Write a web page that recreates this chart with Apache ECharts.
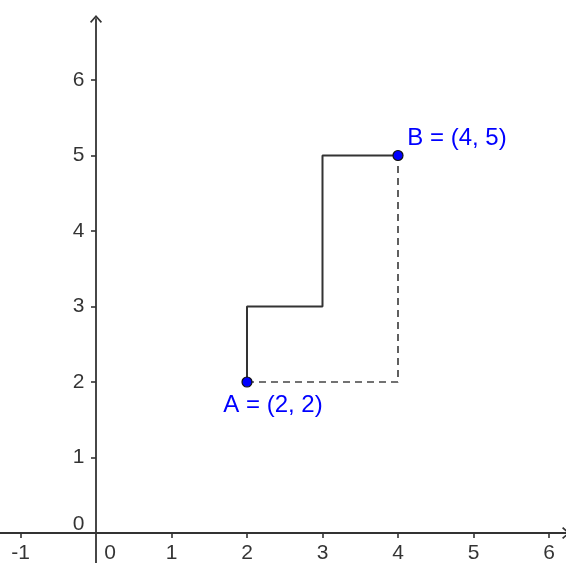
<!DOCTYPE html>
<html>
<head>
<meta charset="utf-8">
<script src="https://cdn.jsdelivr.net/npm/echarts@6/dist/echarts.min.js"></script>
<style>
html,body{margin:0;padding:0;background:#fff;}
#chart{width:566px;height:563px;}
</style>
</head>
<body>
<div id="chart"></div>
<script>
// ---- data ----
const pointNames = ['A', 'B'];
const pointX = [2, 4];
const pointY = [2, 5];
const stepX = [2, 2, 3, 3, 4];
const stepY = [2, 3, 3, 5, 5];
const dashX = [2, 4, 4];
const dashY = [2, 2, 5];
const xTickValues = [-1, 1, 2, 3, 4, 5, 6];
const xLabelValues = [-1, 0, 1, 2, 3, 4, 5, 6];
const yTickValues = [1, 2, 3, 4, 5, 6];
const yLabelValues = [0, 1, 2, 3, 4, 5, 6];
const xRange = [-1.2715, 6.2252];
const yRange = [-0.397, 6.808];

const zip = (xs, ys) => xs.map((x, i) => [x, ys[i]]);
const chevron = 'path://M0,6.8 L6,0 L12,6.8 L10.8,8 L6,2.4 L1.2,8 Z';
const font = '"Liberation Sans", Arial, sans-serif';
const axisColor = '#333';
const tickFont = 21;

const chart = echarts.init(document.getElementById('chart'), null, {renderer: 'canvas'});
chart.setOption({
  animation: false,
  backgroundColor: '#fff',
  tooltip: {show: false},
  grid: {left: 0, right: 0, top: 19, bottom: 0, containLabel: false, outerBoundsMode: 'none'},
  xAxis: {
    type: 'value', min: xRange[0], max: xRange[1],
    axisLine: {onZero: true, lineStyle: {color: axisColor, width: 1.8},
      symbol: ['none', chevron], symbolSize: [12, 8]},
    axisTick: {show: true, length: 5, customValues: xTickValues, lineStyle: {color: axisColor, width: 1.6}},
    axisLabel: {show: false},
    splitLine: {show: false}
  },
  yAxis: {
    type: 'value', min: yRange[0], max: yRange[1],
    axisLine: {onZero: true, lineStyle: {color: axisColor, width: 1.8},
      symbol: ['none', chevron], symbolSize: [12, 8]},
    axisTick: {show: true, length: 5, customValues: yTickValues, lineStyle: {color: axisColor, width: 1.6}},
    axisLabel: {show: false},
    splitLine: {show: false}
  },
  series: [
    {
      type: 'line', data: zip(stepX, stepY), symbol: 'none', z: 3,
      lineStyle: {color: '#333', width: 2}
    },
    {
      type: 'line', data: zip(dashX, dashY), symbol: 'none', z: 3,
      lineStyle: {color: '#444', width: 1.7, type: [7, 5]}
    },
    {
      // x-axis tick labels, placed on the x-axis through the scale
      type: 'scatter', silent: true, symbol: 'circle', symbolSize: 1, z: 4, clip: false,
      itemStyle: {color: 'rgba(0,0,0,0)'},
      data: xLabelValues.map(v => ({
        value: [v, 0],
        label: {
          show: true, position: 'inside', formatter: String(v),
          offset: v === 0 ? [14, 20] : [0, 20],
          color: '#000', textBorderWidth: 0, fontSize: tickFont, fontFamily: font
        }
      }))
    },
    {
      // y-axis tick labels
      type: 'scatter', silent: true, symbol: 'circle', symbolSize: 1, z: 4, clip: false,
      itemStyle: {color: 'rgba(0,0,0,0)'},
      data: yLabelValues.map(v => ({
        value: [0, v],
        label: {
          show: true, position: 'left', distance: 11, formatter: String(v),
          offset: v === 0 ? [0, -8.5] : [0, 0],
          color: '#000', textBorderWidth: 0, fontSize: tickFont, fontFamily: font
        }
      }))
    },
    {
      type: 'scatter', z: 5, symbol: 'circle', symbolSize: 10,
      itemStyle: {color: '#0000ff', borderColor: '#111', borderWidth: 1.2, opacity: 1},
      data: pointNames.map((n, i) => ({
        value: [pointX[i], pointY[i]],
        name: n,
        label: {
          show: true, position: 'inside',
          offset: i === 0 ? [26, 23] : [59, -17],
          formatter: n + ' = (' + pointX[i] + ', ' + pointY[i] + ')',
          color: '#0000ff', textBorderWidth: 0, fontSize: 24, fontFamily: font
        }
      }))
    }
  ]
});
</script>
</body>
</html>
